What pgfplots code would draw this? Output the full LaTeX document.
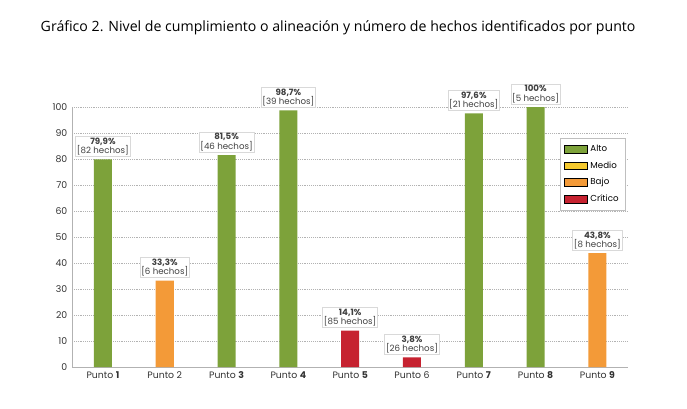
\documentclass[border=0pt]{standalone}
\usepackage{pgfplots}
\pgfplotsset{compat=1.18}
\usepackage{fontspec}
\setmainfont{Poppins}
\newfontfamily\titlefont{Open Sans}
\definecolor{alto}{HTML}{7DA23A}
\definecolor{medio}{HTML}{F5C92E}
\definecolor{bajo}{HTML}{F39A38}
\definecolor{crit}{HTML}{C62230}
\newcommand{\lab}[4]{\node[lab] at (axis cs:#1,#2) {\textbf{#3\%}\\{}[#4 hechos]};}
\begin{document}
\begin{tikzpicture}
\path[use as bounding box] (0,0) rectangle (515pt,306pt);
\node[anchor=west] at (27pt,285pt) {\titlefont\fontsize{10.6}{12}\selectfont Gráfico 2. Nivel de cumplimiento o alineación y número de hechos identificados por punto};
\begin{axis}[at={(54pt,30.75pt)}, anchor=south west, scale only axis, clip=false,
  width=417pt, height=195pt, xmin=0.5, xmax=9.5, ymin=0, ymax=100,
  ytick={0,10,...,100}, xtick={1,...,9},
  xticklabels={Punto \textbf{1},Punto 2,Punto \textbf{3},Punto \textbf{4},Punto \textbf{5},Punto 6,Punto \textbf{7},Punto \textbf{8},Punto \textbf{9}},
  axis x line*=bottom, axis y line*=left, axis line style={gray!60},
  ymajorgrids, grid style={densely dotted, gray!60},
  major tick length=0pt, tick label style={font=\fontsize{7}{8}\selectfont, text=black!80},
  /pgf/number format/assume math mode=true,
  ybar, bar width=13.5pt, bar shift=0pt,
  legend style={at={(0.995,0.88)}, anchor=north east, draw=gray!50, font=\fontsize{6.5}{7}\selectfont, row sep=2pt, inner sep=3pt},
  legend image post style={draw=none},
  legend cell align=left, area legend]
\addplot[draw=none, fill=alto] coordinates {(1,79.9) (3,81.5) (4,98.7) (7,97.6) (8,100)};
\addlegendentry{Alto}
\addlegendimage{area legend, draw=none, fill=medio}
\addlegendentry{Medio}
\addplot[draw=none, fill=bajo] coordinates {(2,33.3) (9,43.8)};
\addlegendentry{Bajo}
\addplot[draw=none, fill=crit] coordinates {(5,14.1) (6,3.8)};
\addlegendentry{Crítico}
\tikzset{lab/.style={above=2pt, align=center, fill=white, draw=gray!30, inner sep=1pt, font=\fontsize{6.5}{7}\selectfont, text=black!75}}
\lab{1}{79.9}{79,9}{82}
\lab{2}{33.3}{33,3}{6}
\lab{3}{81.5}{81,5}{46}
\lab{4}{98.7}{98,7}{39}
\lab{5}{14.1}{14,1}{85}
\lab{6}{3.8}{3,8}{26}
\lab{7}{97.6}{97,6}{21}
\lab{8}{100}{100}{5}
\lab{9}{43.8}{43,8}{8}
\end{axis}
\end{tikzpicture}
\end{document}
